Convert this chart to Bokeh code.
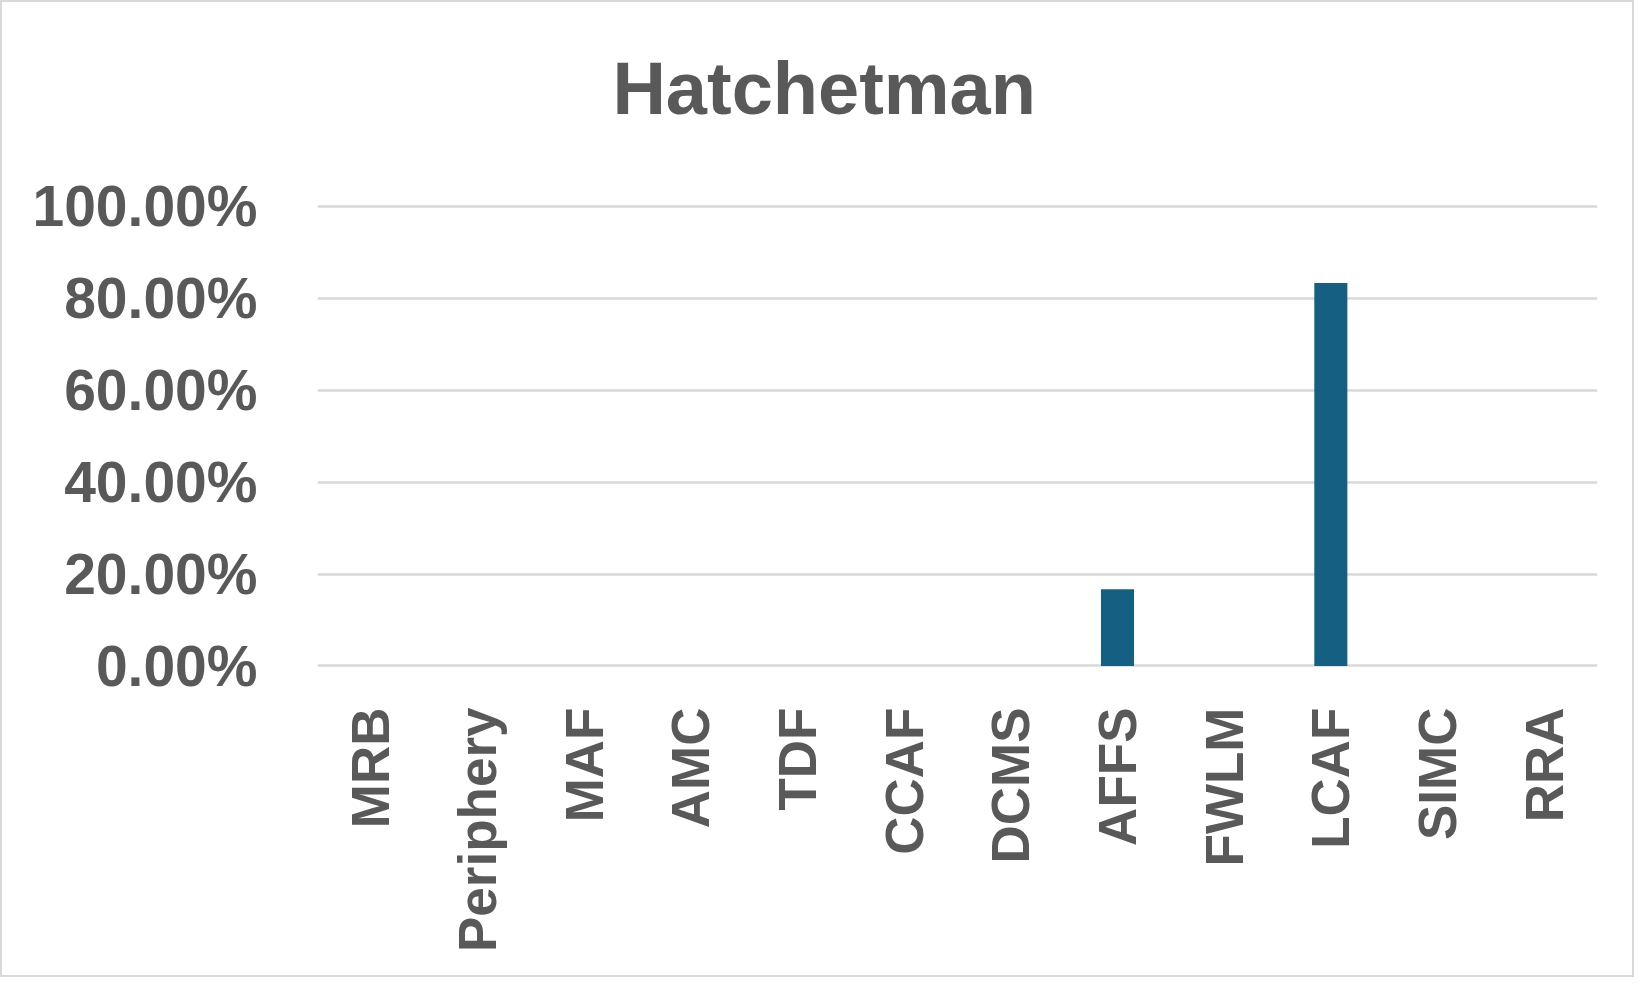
from bokeh.plotting import figure
from bokeh.models import FactorRange, Range1d, NumeralTickFormatter, FixedTicker, ColumnDataSource, Label
from bokeh.embed import file_html
from bokeh.resources import INLINE
import math

categories = ["MRB", "Periphery", "MAF", "AMC", "TDF", "CCAF", "DCMS", "AFFS", "FWLM", "LCAF", "SIMC", "RRA"]
values = [0, 0, 0, 0, 0, 0, 0, 0.1667, 0, 0.8333, 0, 0]
y_ticks = [0, 0.2, 0.4, 0.6, 0.8, 1.0]
title_text = "Hatchetman"

FONT = "Liberation Sans"
GREY = "#595959"

src = ColumnDataSource(dict(cat=categories, val=values))

p = figure(
    width=1634, height=977,
    x_range=FactorRange(factors=categories),
    y_range=Range1d(-0.01, 1.398),
    output_backend="svg", toolbar_location=None, tools="",
    min_border_left=315, min_border_right=39,
    min_border_top=21, min_border_bottom=309,
)
p.styles = {"border": "2px solid #d9d9d9", "box-sizing": "border-box"}

p.vbar(x="cat", top="val", bottom=0, width=0.31, source=src,
       fill_color="#156082", line_color=None)

# chart title, centred on the whole chart area (drawn inside the tall frame)
title = Label(x=4.75, y=1.257, text=title_text,
              text_font=FONT, text_font_size="74px", text_font_style="bold",
              text_color=GREY, text_align="center", text_baseline="alphabetic")
p.add_layout(title)

p.outline_line_color = None
p.background_fill_color = "white"
p.border_fill_color = "white"

p.xgrid.grid_line_color = None
p.ygrid.grid_line_color = "#d9d9d9"
p.ygrid.grid_line_width = 2.5
p.ygrid.ticker = FixedTicker(ticks=y_ticks)

p.yaxis.ticker = FixedTicker(ticks=y_ticks)
p.yaxis.formatter = NumeralTickFormatter(format="0.00%")
p.yaxis.axis_line_color = None
p.yaxis.major_tick_line_color = None
p.yaxis.minor_tick_line_color = None
p.yaxis.major_label_standoff = 54
p.yaxis.major_label_text_font = FONT
p.yaxis.major_label_text_font_size = "57px"
p.yaxis.major_label_text_font_style = "bold"
p.yaxis.major_label_text_color = GREY

p.xaxis.axis_line_color = None
p.xaxis.major_tick_line_color = None
p.xaxis.minor_tick_line_color = None
p.xaxis.major_label_orientation = math.pi / 2
p.xaxis.major_label_standoff = 31
p.xaxis.major_label_text_font = FONT
p.xaxis.major_label_text_font_size = "53px"
p.xaxis.major_label_text_font_style = "bold"
p.xaxis.major_label_text_color = GREY

open("out.html", "w").write(file_html(p, INLINE))
